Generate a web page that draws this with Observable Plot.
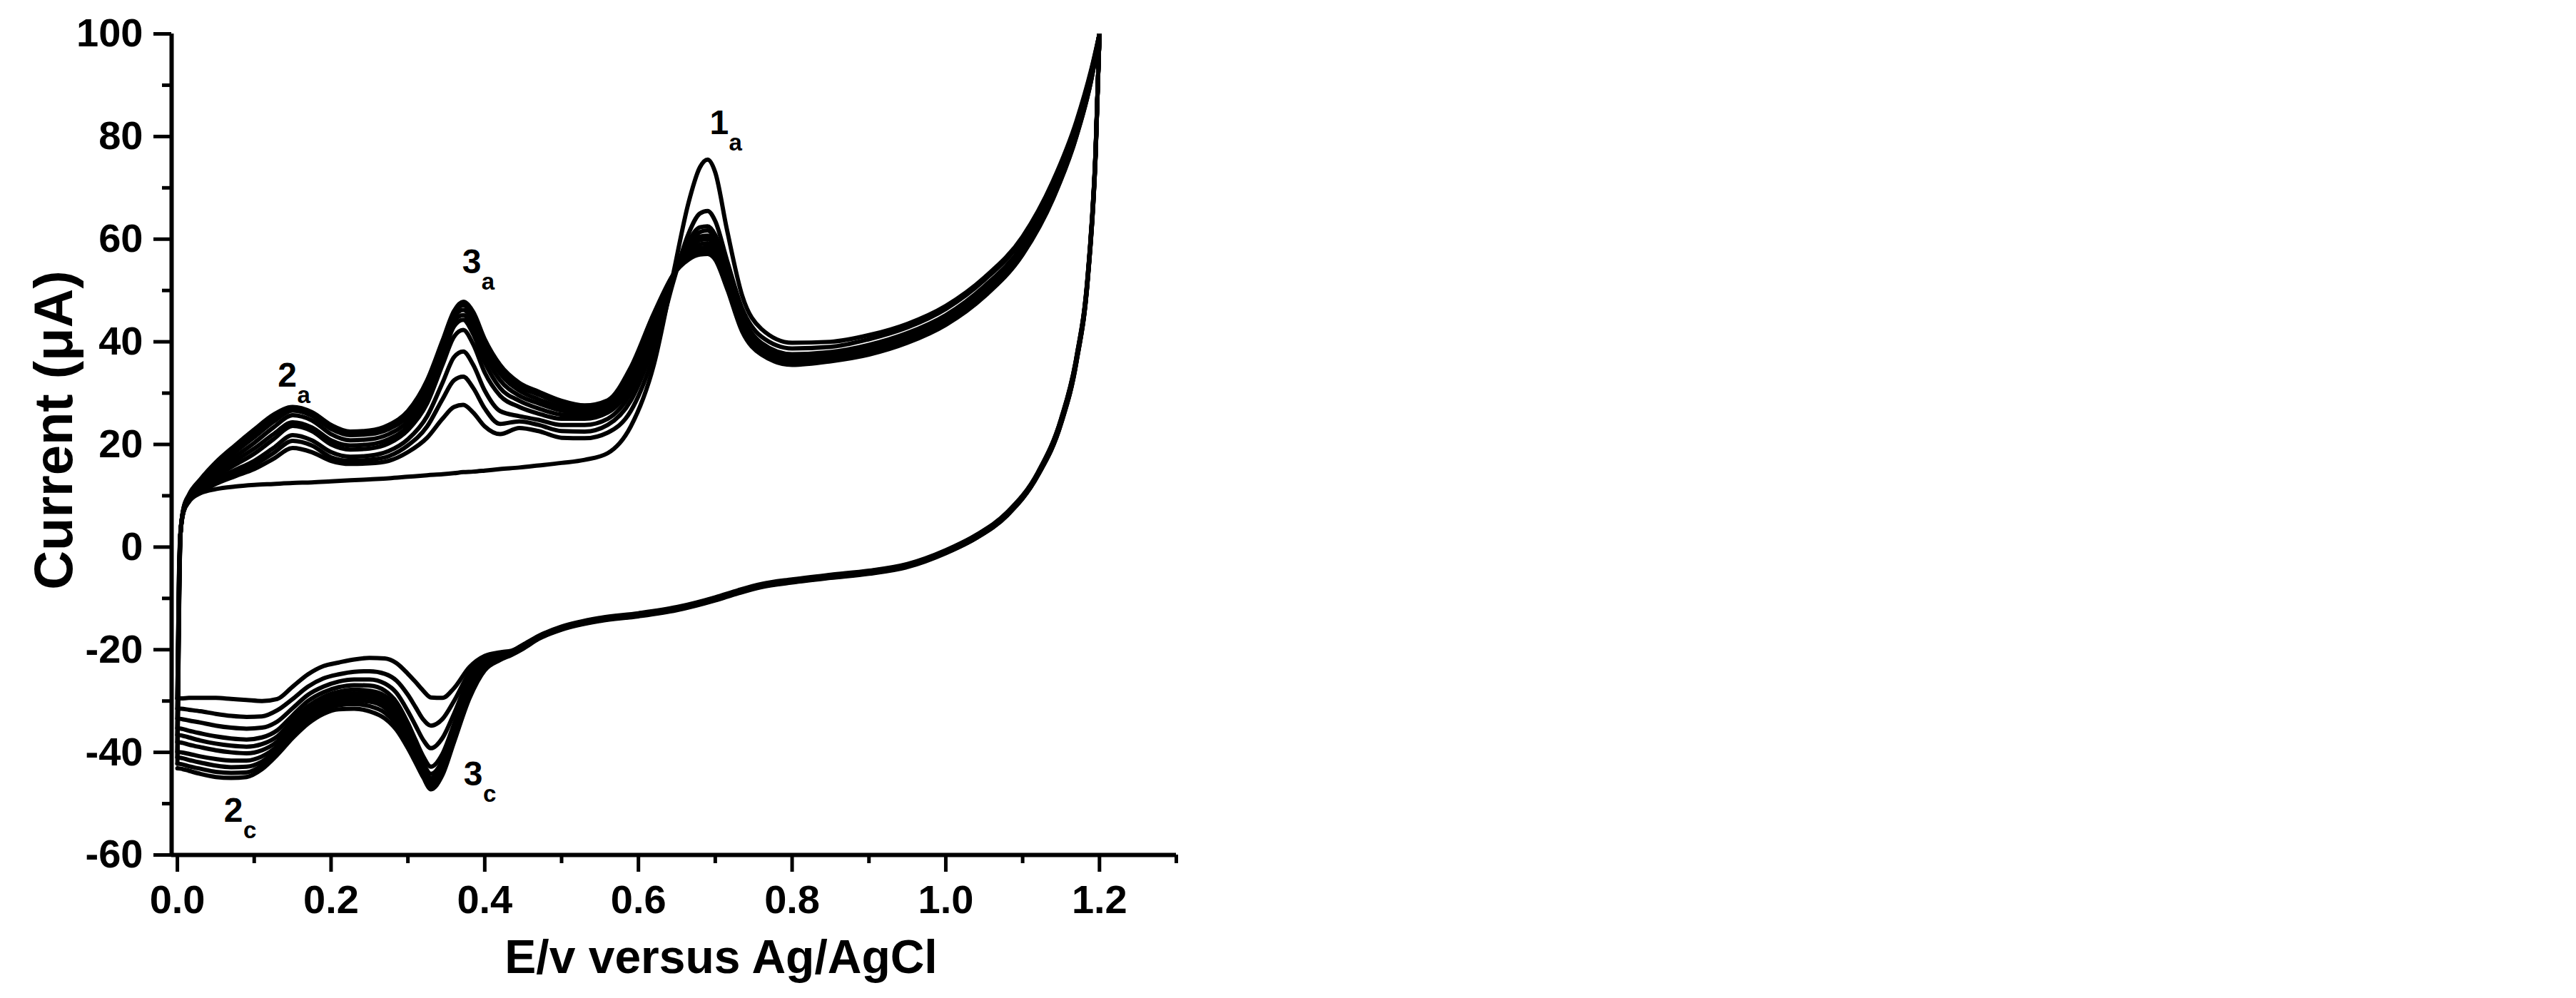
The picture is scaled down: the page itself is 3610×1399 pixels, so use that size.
<!DOCTYPE html>
<html>
<head>
<meta charset="utf-8">
<script src="https://cdn.jsdelivr.net/npm/d3@7"></script>
<script src="https://cdn.jsdelivr.net/npm/@observablehq/plot@0.6"></script>
<style>
  html, body { margin: 0; padding: 0; background: #fff; }
  svg { display: block; }
</style>
</head>
<body>
<div id="chart"></div>
<script>
// ---------- DATA ----------
// Anodic sweep potentials (V vs Ag/AgCl)
const anodicPotential = [0, 0.002, 0.004, 0.008, 0.015, 0.03, 0.05, 0.075, 0.10, 0.125, 0.15, 0.175, 0.20, 0.225, 0.25, 0.275, 0.30, 0.325, 0.345, 0.36, 0.372, 0.385, 0.40, 0.42, 0.445, 0.47, 0.50, 0.53, 0.56, 0.59, 0.62, 0.645, 0.665, 0.68, 0.69, 0.70, 0.715, 0.735, 0.76, 0.80, 0.85, 0.90, 0.95, 1.00, 1.05, 1.10, 1.14, 1.17, 1.19, 1.20];

// Anodic currents (µA), one array per cycle
const anodicCycle1  = [-29.5, -6, 3, 7, 9, 10.5, 11.3, 11.8, 12.1, 12.3, 12.5, 12.6, 12.8, 13.0, 13.2, 13.4, 13.7, 14.0, 14.2, 14.4, 14.6, 14.7, 14.9, 15.2, 15.5, 15.9, 16.4, 17.0, 18.3, 23.5, 35.5, 53, 67, 74, 75.5, 73, 62, 49, 42.5, 39.8, 40.0, 41.3, 43.5, 47.0, 52.5, 60.5, 71.5, 83.0, 93.5, 100];
const anodicCycle2  = [-29.5, -7, 2.5, 6.8, 8.8, 10.6, 12.3, 13.8, 15.2, 17.2, 19.3, 18.5, 16.8, 16.2, 16.3, 16.8, 18.5, 21.3, 25.0, 27.3, 27.7, 26.2, 23.5, 22.0, 23.2, 22.6, 21.3, 21.2, 22.3, 26.5, 37.5, 51.5, 61, 65, 65.5, 63.5, 56, 46.5, 41, 38.7, 39.0, 40.5, 42.8, 46.4, 52.0, 60.0, 71.0, 82.5, 93.2, 100];
const anodicCycle3  = [-31.5, -8, 2.5, 6.9, 8.9, 10.8, 12.7, 14.4, 16.0, 18.3, 20.7, 19.8, 17.5, 16.8, 17.0, 17.7, 19.8, 23.5, 28.8, 32.5, 33.2, 31.0, 27.0, 24.0, 24.5, 23.8, 22.6, 22.5, 23.8, 28.5, 39.5, 52, 59.5, 62.3, 62.5, 60.8, 54, 45, 39.8, 37.6, 38.0, 39.4, 41.7, 45.2, 50.8, 58.8, 69.8, 81.5, 92.6, 100];
const anodicCycle4  = [-33.4, -9, 2.5, 7.0, 9.0, 11.0, 13.2, 15.0, 16.8, 19.3, 21.8, 20.8, 18.5, 17.6, 17.8, 18.7, 21.0, 25.5, 32.0, 37.0, 38.1, 35.5, 30.5, 26.5, 25.5, 24.8, 23.8, 23.8, 25.0, 30.0, 41.0, 52.5, 59.0, 61.4, 61.7, 60.0, 53.5, 44.5, 39.3, 37.2, 37.6, 39.0, 41.3, 44.8, 50.3, 58.3, 69.4, 81.2, 92.4, 100];
const anodicCycle5  = [-35.3, -10, 2.5, 7.1, 9.2, 11.3, 13.8, 16.0, 18.2, 21.0, 23.6, 22.6, 20.0, 19.0, 19.2, 20.2, 22.8, 28.0, 35.5, 41.0, 42.3, 39.5, 34.0, 29.5, 27.3, 26.0, 25.0, 25.0, 26.2, 31.2, 42.0, 52.5, 58.3, 60.5, 60.7, 59.2, 53.0, 44.0, 39.0, 36.9, 37.3, 38.7, 41.0, 44.5, 50.0, 58.0, 69.0, 80.9, 92.2, 100];
const anodicCycle6  = [-36.6, -11, 2.5, 7.2, 9.4, 11.6, 14.3, 16.8, 19.2, 22.0, 24.3, 23.3, 20.8, 19.8, 20.0, 21.0, 23.5, 29.0, 37.0, 43.0, 44.3, 41.5, 36.0, 31.0, 28.5, 27.0, 25.8, 25.6, 26.8, 32.0, 42.8, 52.8, 58.0, 59.8, 60.0, 58.6, 52.5, 43.6, 38.7, 36.6, 37.0, 38.4, 40.7, 44.2, 49.7, 57.7, 68.8, 80.7, 92.0, 100];
const anodicCycle7  = [-38.0, -12, 2.5, 7.3, 9.6, 12.0, 14.8, 17.6, 20.3, 23.3, 25.7, 24.7, 22.0, 20.8, 21.0, 22.0, 24.5, 30.0, 38.0, 44.0, 45.2, 42.8, 37.5, 32.5, 29.5, 28.0, 26.6, 26.2, 27.3, 32.8, 43.5, 53.0, 57.5, 59.0, 59.2, 57.8, 52.0, 43.2, 38.4, 36.3, 36.8, 38.2, 40.5, 44.0, 49.5, 57.5, 68.6, 80.5, 91.9, 100];
const anodicCycle8  = [-39.9, -13, 2.5, 7.4, 9.8, 12.4, 15.4, 18.5, 21.4, 24.4, 26.6, 25.6, 23.0, 21.8, 22.0, 23.0, 25.5, 31.0, 38.8, 44.8, 46.2, 44.0, 38.8, 33.8, 30.5, 28.8, 27.3, 26.8, 27.8, 33.5, 44.2, 53.0, 57.0, 58.3, 58.4, 57.2, 51.5, 42.8, 38.1, 36.0, 36.6, 37.9, 40.2, 43.7, 49.2, 57.3, 68.4, 80.3, 91.7, 100];
const anodicCycle9  = [-41.0, -14, 2.5, 7.5, 10.0, 12.8, 16.0, 19.2, 22.3, 25.2, 27.0, 26.0, 23.5, 22.2, 22.4, 23.5, 26.0, 31.8, 39.5, 45.5, 47.1, 45.0, 39.8, 34.8, 31.3, 29.7, 28.0, 27.3, 28.2, 34.2, 44.8, 53.0, 56.5, 57.6, 57.7, 56.5, 51.0, 42.4, 37.8, 35.8, 36.4, 37.7, 40.0, 43.5, 49.0, 57.1, 68.2, 80.1, 91.6, 100];
const anodicCycle10 = [-42.2, -15, 2.5, 7.6, 10.2, 13.2, 16.5, 19.8, 22.9, 25.8, 27.3, 26.3, 23.8, 22.5, 22.7, 23.8, 26.5, 32.5, 40.2, 46.0, 47.8, 45.8, 40.5, 35.5, 32.0, 30.3, 28.5, 27.6, 28.6, 35.0, 45.5, 53.0, 56.0, 57.0, 57.1, 56.0, 50.5, 42.0, 37.5, 35.5, 36.2, 37.5, 39.8, 43.3, 48.8, 57.0, 68.0, 80.0, 91.5, 100];

// Cathodic sweep potentials (from 1.2 V back to 0 V)
const cathodicPotential = [1.20, 1.195, 1.185, 1.17, 1.15, 1.12, 1.08, 1.04, 1.00, 0.95, 0.90, 0.85, 0.80, 0.76, 0.73, 0.70, 0.65, 0.60, 0.55, 0.50, 0.47, 0.45, 0.435, 0.42, 0.40, 0.38, 0.36, 0.345, 0.33, 0.32, 0.31, 0.30, 0.285, 0.27, 0.25, 0.23, 0.21, 0.19, 0.17, 0.15, 0.13, 0.11, 0.09, 0.07, 0.05, 0.03, 0.015, 0.005, 0.0];

const cathodicCycle1  = [100, 77.5, 53.5, 37.0, 25.0, 14.6, 6.8, 2.4, -0.6, -3.3, -4.6, -5.4, -6.3, -7.2, -8.4, -9.8, -11.7, -12.9, -13.8, -15.5, -17.3, -19.0, -20.2, -20.5, -21.2, -23.4, -27.5, -29.4, -29.3, -28.0, -26.3, -24.7, -22.6, -21.7, -21.6, -21.9, -22.5, -23.2, -24.8, -27.2, -29.6, -30.0, -29.8, -29.6, -29.4, -29.4, -29.4, -29.5, -29.5];
const cathodicCycle2  = [100, 77.4, 53.4, 36.9, 24.9, 14.5, 6.7, 2.3, -0.7, -3.4, -4.7, -5.5, -6.4, -7.3, -8.5, -9.9, -11.8, -13.0, -13.9, -15.6, -17.4, -19.1, -20.3, -20.7, -21.6, -24.5, -30.0, -33.5, -34.8, -33.6, -31.2, -28.8, -26.0, -24.7, -24.2, -24.3, -24.8, -25.6, -27.2, -29.6, -31.8, -33.0, -33.1, -32.9, -32.5, -32.0, -31.7, -31.5, -31.5];
const cathodicCycle3  = [100, 77.3, 53.3, 36.8, 24.8, 14.4, 6.6, 2.2, -0.8, -3.5, -4.8, -5.6, -6.5, -7.4, -8.6, -10.0, -11.9, -13.1, -14.0, -15.7, -17.5, -19.2, -20.4, -20.9, -22.1, -25.5, -32.5, -37.2, -39.2, -37.6, -34.8, -32.0, -28.4, -26.6, -25.8, -25.8, -26.2, -27.2, -28.8, -31.4, -34.0, -35.2, -35.4, -35.2, -34.8, -34.2, -33.8, -33.5, -33.4];
const cathodicCycle4  = [100, 77.2, 53.1, 36.6, 24.6, 14.3, 6.5, 2.1, -0.9, -3.6, -4.9, -5.7, -6.6, -7.5, -8.7, -10.1, -12.0, -13.2, -14.1, -15.8, -17.6, -19.3, -20.5, -21.1, -22.6, -26.5, -34.5, -40.3, -42.8, -40.8, -37.6, -34.3, -30.2, -28.0, -27.0, -26.9, -27.3, -28.3, -30.0, -32.8, -35.7, -37.1, -37.5, -37.3, -36.9, -36.3, -35.8, -35.4, -35.3];
const cathodicCycle5  = [100, 77.0, 53.0, 36.5, 24.5, 14.3, 6.5, 2.1, -0.9, -3.6, -4.9, -5.7, -6.6, -7.5, -8.7, -10.1, -12.0, -13.2, -14.1, -15.8, -17.6, -19.4, -20.6, -21.2, -22.9, -27.3, -35.5, -41.6, -44.2, -42.2, -38.8, -35.5, -31.2, -29.0, -28.0, -27.8, -28.2, -29.2, -31.0, -33.8, -36.9, -38.4, -38.9, -38.7, -38.3, -37.7, -37.1, -36.7, -36.6];
const cathodicCycle6  = [100, 76.9, 52.9, 36.4, 24.4, 14.2, 6.4, 2.0, -1.0, -3.7, -5.0, -5.8, -6.7, -7.6, -8.8, -10.2, -12.1, -13.3, -14.2, -15.9, -17.7, -19.5, -20.7, -21.4, -23.2, -27.9, -36.3, -42.4, -45.0, -43.0, -39.6, -36.3, -32.0, -29.8, -28.7, -28.5, -28.8, -29.9, -31.8, -34.7, -37.9, -39.6, -40.2, -40.0, -39.6, -39.0, -38.5, -38.1, -38.0];
const cathodicCycle7  = [100, 76.8, 52.8, 36.3, 24.3, 14.2, 6.4, 2.0, -1.0, -3.7, -5.0, -5.8, -6.7, -7.6, -8.8, -10.2, -12.1, -13.3, -14.2, -15.9, -17.7, -19.6, -20.8, -21.6, -23.5, -28.5, -36.9, -43.1, -45.7, -43.6, -40.3, -37.0, -32.8, -30.5, -29.4, -29.2, -29.5, -30.5, -32.5, -35.4, -38.8, -40.8, -41.6, -41.6, -41.3, -40.8, -40.3, -40.0, -39.9];
const cathodicCycle8  = [100, 76.7, 52.7, 36.2, 24.2, 14.1, 6.3, 1.9, -1.1, -3.8, -5.1, -5.9, -6.8, -7.7, -8.9, -10.3, -12.2, -13.4, -14.3, -16.0, -17.8, -19.7, -20.8, -21.7, -23.7, -28.9, -37.4, -43.6, -46.2, -44.1, -40.9, -37.7, -33.6, -31.3, -30.1, -29.9, -30.1, -31.1, -33.2, -36.1, -39.5, -41.8, -42.8, -42.9, -42.6, -42.0, -41.5, -41.1, -41.0];
const cathodicCycle9  = [100, 76.6, 52.6, 36.1, 24.1, 14.0, 6.2, 1.8, -1.1, -3.8, -5.1, -5.9, -6.8, -7.7, -8.9, -10.3, -12.2, -13.4, -14.3, -16.0, -17.8, -19.7, -20.9, -21.9, -23.9, -29.2, -37.7, -44.0, -46.7, -44.5, -41.5, -38.5, -34.6, -32.3, -31.0, -30.6, -30.8, -31.8, -33.8, -36.6, -40.0, -42.6, -43.9, -44.0, -43.8, -43.2, -42.7, -42.3, -42.2];
const cathodicCycle10 = [100, 76.5, 52.5, 36.0, 24.0, 14.0, 6.2, 1.8, -1.2, -3.9, -5.2, -6.0, -6.9, -7.8, -9.0, -10.4, -12.3, -13.5, -14.4, -16.1, -17.9, -19.8, -21.0, -22.0, -24.0, -29.5, -38.0, -44.4, -47.2, -44.9, -42.0, -39.2, -35.6, -33.4, -32.0, -31.5, -31.6, -32.5, -34.4, -37.2, -40.5, -43.3, -44.8, -45.0, -44.8, -44.2, -43.6, -43.2, -43.1];

const anodicCycles = [anodicCycle1, anodicCycle2, anodicCycle3, anodicCycle4, anodicCycle5, anodicCycle6, anodicCycle7, anodicCycle8, anodicCycle9, anodicCycle10];
const cathodicCycles = [cathodicCycle1, cathodicCycle2, cathodicCycle3, cathodicCycle4, cathodicCycle5, cathodicCycle6, cathodicCycle7, cathodicCycle8, cathodicCycle9, cathodicCycle10];

// Axis ticks
const xTicks = [0, 0.2, 0.4, 0.6, 0.8, 1.0, 1.2];
const xMinorTicks = [0.1, 0.3, 0.5, 0.7, 0.9, 1.1, 1.3];
const yTicks = [-60, -40, -20, 0, 20, 40, 60, 80, 100];
const yMinorTicks = [-50, -30, -10, 10, 30, 50, 70, 90];

// Peak annotations
const peakNumber = ["1", "3", "2", "2", "3"];
const peakSub = ["a", "a", "a", "c", "c"];
const peakE = [0.705, 0.383, 0.143, 0.073, 0.385];
const peakI = [80.4, 53.4, 31.2, -53.5, -46.4];

const xTitle = "E/v versus Ag/AgCl";
const yTitle = "Current (\u03BCA)";

// ---------- BUILD ----------
const rows = [];
anodicCycles.forEach((series, c) => series.forEach((I, j) => rows.push({series: "a" + c, E: anodicPotential[j], I})));
cathodicCycles.forEach((series, c) => series.forEach((I, j) => rows.push({series: "c" + c, E: cathodicPotential[j], I})));

const labels = peakNumber.map((n, i) => ({n, sub: peakSub[i], E: peakE[i], I: peakI[i]}));

const W = 3610, H = 1399;
const mL = 240, mR = W - 1648, mT = 47, mB = H - 1198;
const font = "'Liberation Sans', Arial, Helvetica, sans-serif";
const xDomain = [-0.0075, 1.3];
const yDomain = [-60, 100];

const axisMarks = [
  Plot.axisY(yTicks, {anchor: "left", tickSize: 25, tickPadding: 15, fontSize: 56, fontWeight: "bold", strokeWidth: 5, stroke: "black", fill: "black", tickFormat: d => String(d), label: null}),
  Plot.axisY(yMinorTicks, {anchor: "left", tickSize: 13, strokeWidth: 5, stroke: "black", tickFormat: () => "", label: null}),
  Plot.axisX(xTicks, {anchor: "bottom", tickSize: 24, tickPadding: 18, fontSize: 56, fontWeight: "bold", strokeWidth: 5, stroke: "black", fill: "black", tickFormat: d3.format(".1f"), label: null}),
  Plot.axisX(xMinorTicks, {anchor: "bottom", tickSize: 12, strokeWidth: 5, stroke: "black", tickFormat: () => "", label: null})
];

const chart = Plot.plot({
  width: W,
  height: H,
  marginLeft: mL,
  marginRight: mR,
  marginTop: mT,
  marginBottom: mB,
  x: {domain: xDomain},
  y: {domain: yDomain},
  style: {fontFamily: font, fontWeight: "bold", background: "white", color: "black"},
  marks: [
    Plot.line(rows, {x: "E", y: "I", z: "series", curve: "monotone-x", stroke: "black", strokeWidth: 6, strokeLinejoin: "round", clip: true}),
    // axis lines
    Plot.ruleX([xDomain[0]], {stroke: "black", strokeWidth: 6}),
    Plot.ruleY([yDomain[0]], {stroke: "black", strokeWidth: 6}),
    ...axisMarks,
    // peak labels
    Plot.text(labels, {x: "E", y: "I", text: "n", fontSize: 48, fontWeight: "bold", fill: "black", textAnchor: "middle", lineAnchor: "bottom"}),
    Plot.text(labels, {x: "E", y: "I", text: "sub", fontSize: 33, fontWeight: "bold", fill: "black", textAnchor: "middle", lineAnchor: "bottom", dx: 23, dy: 23}),
    // axis titles
    Plot.text([xTitle], {text: d => d, frameAnchor: "bottom", dx: 66, dy: 165, lineAnchor: "bottom", textAnchor: "middle", fontSize: 66, fontWeight: "bold", fill: "black"}),
    Plot.text([yTitle], {text: d => d, frameAnchor: "left", rotate: -90, dx: -140, dy: -20, lineAnchor: "bottom", textAnchor: "middle", fontSize: 76, fontWeight: "bold", fill: "black"})
  ]
});

document.getElementById("chart").appendChild(chart);
</script>
</body>
</html>
